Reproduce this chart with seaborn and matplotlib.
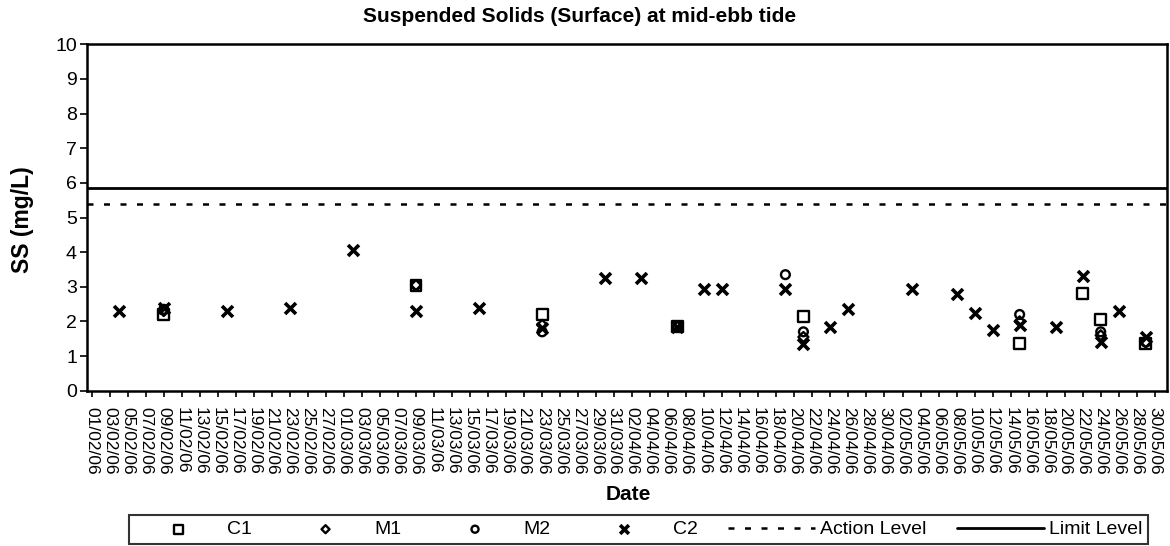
import pandas as pd
import seaborn as sns
import matplotlib.pyplot as plt
import matplotlib.dates as mdates

# readings (dd/mm/yy) and suspended solids in mg/L, per station
c1_dates = ["09/02/06", "09/03/06", "23/03/06", "07/04/06", "21/04/06",
            "15/05/06", "22/05/06", "24/05/06", "29/05/06"]
c1_ss = [2.2, 3.05, 2.2, 1.85, 2.15, 1.35, 2.8, 2.05, 1.35]

m1_dates = ["09/02/06", "09/03/06", "23/03/06", "07/04/06", "21/04/06",
            "15/05/06", "24/05/06", "29/05/06"]
m1_ss = [2.3, 3.05, 1.9, 1.85, 1.55, 2.0, 1.6, 1.4]

m2_dates = ["09/02/06", "09/03/06", "23/03/06", "07/04/06", "19/04/06",
            "21/04/06", "15/05/06", "24/05/06", "29/05/06"]
m2_ss = [2.35, 3.05, 1.7, 1.85, 3.35, 1.7, 2.2, 1.7, 1.4]

c2_dates = ["04/02/06", "09/02/06", "16/02/06", "23/02/06", "02/03/06",
            "09/03/06", "16/03/06", "23/03/06", "30/03/06", "03/04/06",
            "07/04/06", "10/04/06", "12/04/06", "19/04/06", "21/04/06",
            "24/04/06", "26/04/06", "03/05/06", "08/05/06", "10/05/06",
            "12/05/06", "15/05/06", "19/05/06", "22/05/06", "24/05/06",
            "26/05/06", "29/05/06"]
c2_ss = [2.3, 2.4, 2.3, 2.4, 4.05, 2.3, 2.4, 1.8, 3.25, 3.25,
         1.85, 2.95, 2.95, 2.95, 1.35, 1.85, 2.35, 2.95, 2.8, 2.25,
         1.75, 1.9, 1.85, 3.3, 1.4, 2.3, 1.55]

action_level = 5.4
limit_level = 5.85

start_date = "01/02/06"
end_date = "30/05/06"


def to_frame(dates, values):
    return pd.DataFrame({"Date": pd.to_datetime(dates, format="%d/%m/%y"),
                         "SS": values})


sns.set_theme(style="white")
plt.rcParams["font.family"] = ["Liberation Sans", "DejaVu Sans"]
plt.rcParams["text.color"] = "black"
plt.rcParams["axes.labelcolor"] = "black"

W, H = 1170, 546
fig = plt.figure(figsize=(W / 100, H / 100), dpi=100)
fig.patch.set_facecolor("white")
left, right, top, bottom = 86.7, 1166.5, 44.3, 390.7
ax = fig.add_axes([left / W, 1 - bottom / H, (right - left) / W, (bottom - top) / H])

sns.scatterplot(data=to_frame(c1_dates, c1_ss), x="Date", y="SS", ax=ax,
                marker="s", s=62, color="black", facecolor="none",
                edgecolor="black", linewidth=1.7, label="C1", zorder=3,
                legend=False)
sns.scatterplot(data=to_frame(m1_dates, m1_ss), x="Date", y="SS", ax=ax,
                marker="D", s=26, color="black", facecolor="none",
                edgecolor="black", linewidth=1.7, label="M1", zorder=3,
                legend=False)
sns.scatterplot(data=to_frame(m2_dates, m2_ss), x="Date", y="SS", ax=ax,
                marker="o", s=40, color="black", facecolor="none",
                edgecolor="black", linewidth=1.7, label="M2", zorder=3,
                legend=False)
sns.scatterplot(data=to_frame(c2_dates, c2_ss), x="Date", y="SS", ax=ax,
                marker="x", s=62, color="black", linewidth=2.6,
                label="C2", zorder=3, legend=False)

ax.axhline(action_level, color="black", lw=1.8, ls=(0, (2.4, 4.2)),
           label="Action Level")
ax.axhline(limit_level, color="black", lw=2.0, label="Limit Level")

d0 = pd.to_datetime(start_date, format="%d/%m/%y")
d1 = pd.to_datetime(end_date, format="%d/%m/%y")
ax.set_xlim(d0 - pd.Timedelta(days=0.55), d0 + pd.Timedelta(days=119.3))
ax.set_xticks(pd.date_range(d0, d1, freq="2D"))
ax.xaxis.set_major_formatter(mdates.DateFormatter("%d/%m/%y"))
ax.set_ylim(0, 10)
ax.set_yticks(range(0, 11))
ax.set_xlabel("")
ax.set_ylabel("")

ax.tick_params(axis="x", bottom=True, direction="out", length=4, width=1.2,
               pad=8, labelsize=12.5, labelrotation=-90, colors="black")
ax.tick_params(axis="y", left=True, direction="out", length=5, width=1.2,
               pad=2, labelsize=14, colors="black")
for sp in ax.spines.values():
    sp.set_visible(True)
    sp.set_color("black")
    sp.set_linewidth(1.8)

fig.text(580 / W, 1 - 16.7 / H, "Suspended Solids (Surface) at mid-ebb tide",
         ha="center", va="center", fontsize=15, fontweight="bold")
fig.text(23 / W, 1 - 220 / H, "SS (mg/L)", rotation=90, ha="center",
         va="center", fontsize=16.5, fontweight="bold")
fig.text(628 / W, 1 - 495 / H, "Date", ha="center", va="center",
         fontsize=15, fontweight="bold")

handles, labels = ax.get_legend_handles_labels()
leg = fig.legend(handles, labels, loc="center",
                 bbox_to_anchor=(119 / W, 1 - 545 / H, 1039 / W, 31 / H),
                 mode="expand", ncol=6, frameon=True, fancybox=False,
                 edgecolor="black", fontsize=14, handlelength=4.5,
                 handletextpad=0.25, borderpad=0.3, scatterpoints=1,
                 markerscale=0.8)
leg.get_frame().set_linewidth(1.5)

fig.savefig("out.png", dpi=100, facecolor="white")
